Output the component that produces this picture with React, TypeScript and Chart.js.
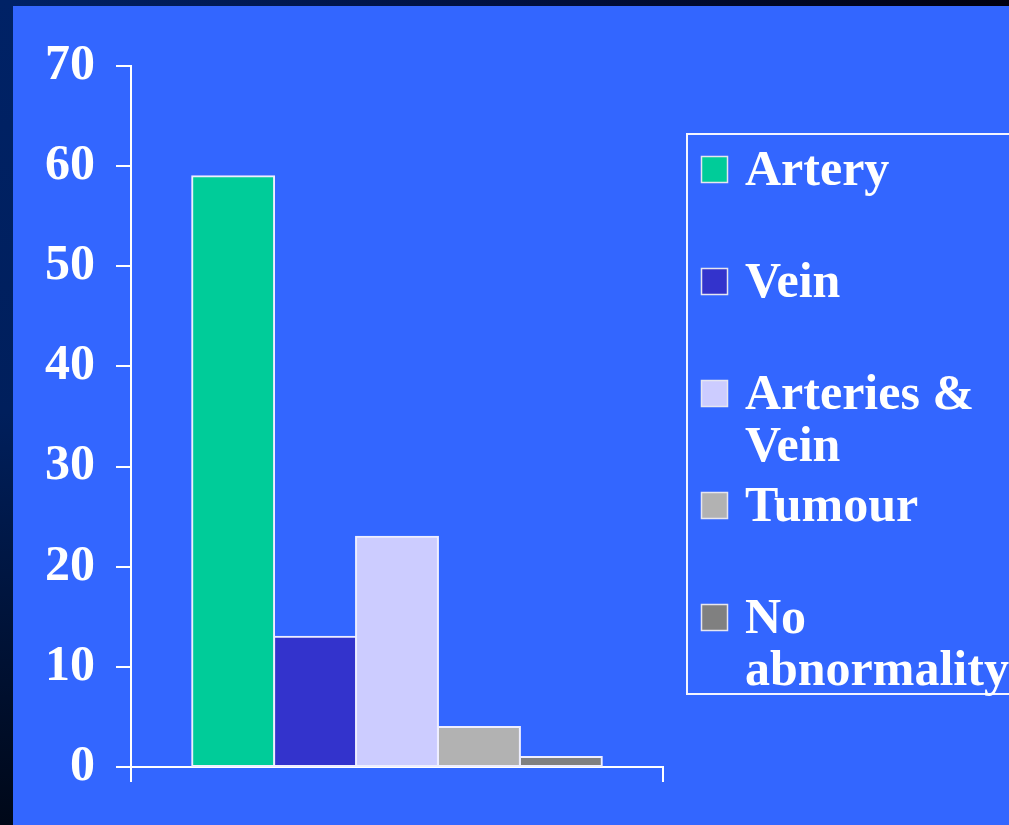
import React, { useEffect, useRef } from "react";
import { Chart, registerables } from "chart.js";

Chart.register(...registerables);

// Chart data
const categories = [""];
const seriesLabels = ["Artery", "Vein", "Arteries & Vein", "Tumour", "No abnormality"];
const seriesValues = [59, 13, 23, 4, 1];
const seriesColors = ["#00CC99", "#3333CC", "#CCCCFF", "#B2B2B2", "#808080"];
const yTickValues = [0, 10, 20, 30, 40, 50, 60, 70];

const SERIF = "'Liberation Serif', 'Times New Roman', serif";

// Boxed legend on the right, with word-wrapped labels
const boxLegend = {
  id: "boxLegend",
  afterDraw(chart: any) {
    const ctx = chart.ctx as CanvasRenderingContext2D;
    ctx.save();
    ctx.strokeStyle = "#F4F4FF";
    ctx.lineWidth = 2;
    ctx.strokeRect(687, 134, 340, 560);
    ctx.font = `bold 50px ${SERIF}`;
    ctx.textBaseline = "alphabetic";
    ctx.textAlign = "left";
    const maxWidth = 268;
    chart.data.datasets.forEach((ds: any, i: number) => {
      const top = 133 + i * 112;
      ctx.fillStyle = ds.backgroundColor;
      ctx.fillRect(701, top + 23, 27, 27);
      ctx.strokeStyle = "#E6E6F0";
      ctx.lineWidth = 1.5;
      ctx.strokeRect(701.5, top + 23.5, 26, 26);
      const words = String(ds.label).split(" ");
      const lines: string[] = [];
      let cur = "";
      words.forEach((w) => {
        const next = cur ? cur + " " + w : w;
        if (cur && ctx.measureText(next).width > maxWidth) {
          lines.push(cur);
          cur = w;
        } else {
          cur = next;
        }
      });
      if (cur) lines.push(cur);
      ctx.fillStyle = "#FFFFFF";
      lines.forEach((ln, j) => ctx.fillText(ln, 745, top + 52 + j * 52));
    });
    ctx.restore();
  },
};

export default function App() {
  const canvasRef = useRef<HTMLCanvasElement | null>(null);

  useEffect(() => {
    if (!canvasRef.current) return;
    const chart = new Chart(canvasRef.current, {
      type: "bar",
      data: {
        labels: categories,
        datasets: seriesLabels.map((label, i) => ({
          label,
          data: [seriesValues[i]],
          backgroundColor: seriesColors[i],
          borderColor: "#EEEEFF",
          borderWidth: 2,
          borderSkipped: false,
          inflateAmount: 1,
          categoryPercentage: 0.77,
          barPercentage: 1.0,
        })),
      },
      options: {
        responsive: false,
        animation: false,
        layout: { padding: { left: 0, top: 66, right: 346, bottom: 0 } },
        plugins: {
          legend: { display: false },
          tooltip: { enabled: false },
        },
        scales: {
          x: {
            grid: {
              display: true,
              drawOnChartArea: false,
              drawTicks: true,
              tickLength: 15,
              color: "#FFFFFF",
              lineWidth: 2,
            },
            border: { display: true, color: "#FFFFFF", width: 2 },
            ticks: { display: false },
            afterFit: (scale: any) => {
              scale.height = 58;
            },
          },
          y: {
            min: 0,
            max: 70,
            afterBuildTicks: (scale: any) => {
              scale.ticks = yTickValues.map((v) => ({ value: v }));
            },
            grid: {
              display: true,
              drawOnChartArea: false,
              drawTicks: true,
              tickLength: 15,
              color: "#FFFFFF",
              lineWidth: 2,
            },
            border: { display: true, color: "#FFFFFF", width: 2 },
            ticks: {
              color: "#FFFFFF",
              padding: 21,
              font: { family: SERIF, weight: "bold", size: 50 },
            },
            afterFit: (scale: any) => {
              scale.width = 131;
            },
          },
        },
      },
      plugins: [boxLegend],
    });
    return () => chart.destroy();
  }, []);

  return (
    <div
      style={{
        position: "fixed",
        left: 0,
        top: 0,
        width: 1009,
        height: 825,
        overflow: "hidden",
        background: "#3366FF",
      }}
    >
      <div
        style={{
          position: "absolute",
          left: 0,
          top: 0,
          width: 1009,
          height: 6,
          background: "linear-gradient(to right, #002266, #001040 50%, #000010)",
        }}
      />
      <div
        style={{
          position: "absolute",
          left: 0,
          top: 0,
          width: 13,
          height: 825,
          background: "linear-gradient(to bottom, #002266, #001f5c 50%, #000818)",
        }}
      />
      <canvas
        ref={canvasRef}
        width={1009}
        height={825}
        style={{ position: "absolute", left: 0, top: 0 }}
      />
    </div>
  );
}
